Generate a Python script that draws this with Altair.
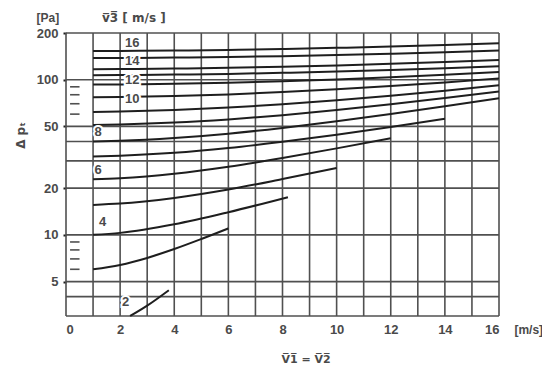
import altair as alt
import pandas as pd

# ---- curve data: pressure loss dp [Pa] vs v1 = v2 [m/s] for each v3 ----
x_to16 = [1, 2, 4, 6, 8, 10, 12, 14, 16]
dp_16 = [153, 153.2, 154.1, 155.6, 157.7, 160.4, 163.6, 167.5, 172]
dp_15 = [138, 138.1, 138.9, 140.2, 141.9, 144.1, 146.9, 150.2, 154]
dp_14 = [117, 117.2, 118, 119.3, 121.2, 123.6, 126.5, 130, 134]
dp_13 = [107, 107.2, 107.9, 109, 110.7, 112.8, 115.4, 118.5, 122]
dp_12 = [93, 93.2, 94.1, 95.6, 97.7, 100.4, 103.6, 107.5, 112]
dp_11 = [77, 77.3, 78.5, 80.4, 83.2, 86.7, 91, 96.1, 102]
dp_10 = [62, 62.4, 63.8, 66.1, 69.4, 73.6, 78.8, 84.9, 92]
dp_9 = [51, 51.4, 52.9, 55.5, 59.1, 63.8, 69.5, 76.2, 84]
dp_8 = [40, 40.4, 42.1, 44.9, 48.9, 54, 60.2, 67.5, 76]
x_to14 = [1, 2, 4, 6, 8, 10, 12, 14]
dp_7 = [32, 32.4, 33.8, 36.3, 39.8, 44.2, 49.6, 56]
x_to12 = [1, 2, 4, 6, 8, 10, 12]
dp_6 = [22.8, 23.2, 24.8, 27.5, 31.3, 36.1, 42]
x_to10 = [1, 2, 4, 6, 8, 10]
dp_5 = [15.6, 15.9, 17.3, 19.6, 22.9, 27]
x_to8 = [1, 2, 4, 6, 8.2]
dp_4 = [10, 10.3, 11.7, 14, 17.5]
x_to6 = [1, 2, 3, 4, 5, 6]
dp_3 = [6, 6.4, 7.1, 8.1, 9.4, 11]
x_v2 = [2.37, 3, 3.8]
dp_2 = [3.0, 3.5, 4.4]

# ---- curve labels ----
label_text = ["16", "14", "12", "10", "8", "6", "4", "2"]
label_x = [2.18, 2.18, 2.18, 2.18, 1.05, 1.05, 1.22, 2.07]
label_y = [173, 132, 100, 75.6, 45.7, 26, 12.1, 3.67]

# ---- grid ----
h_grid = [3, 4, 5, 10, 20, 30, 40, 50, 100, 200]
v_grid = [0, 1, 2, 3, 4, 5, 6, 7, 8, 9, 10, 11, 12, 13, 14, 15, 16]
short_ticks = [6, 7, 8, 9, 60, 70, 80, 90]
x_range = [0, 16]
y_range = [3, 200]
short_range = [0.15, 0.5]
x_ticks = [0, 2, 4, 6, 8, 10, 12, 14, 16]
y_ticks = [5, 10, 20, 50, 100, 200]

# ---- annotation texts ----
annc_text = ["[Pa]", "[m/s]"]
annc_x = [-0.67, 17.1]
annc_y = [250, 2.43]
annl_text = ["v\u03053\u0305 [ m/s ]"]
annl_x = [1.33]
annl_y = [250]
xtitle_text = ["V\u03051\u0305 = V\u03052\u0305"]
xtitle_x = [8.87]
xtitle_y = [1.57]

GRID = "#505050"
INK = "#1e1e1e"
TXT = "#4a4a4a"
FONT = "Liberation Sans"

xs = alt.Scale(domain=[0, 16], nice=False, zero=False)
ys = alt.Scale(type="log", domain=[3, 200], nice=False)

rows = []
for v, xx, yy in [(16, x_to16, dp_16), (15, x_to16, dp_15), (14, x_to16, dp_14),
                  (13, x_to16, dp_13), (12, x_to16, dp_12), (11, x_to16, dp_11),
                  (10, x_to16, dp_10), (9, x_to16, dp_9), (8, x_to16, dp_8),
                  (7, x_to14, dp_7), (6, x_to12, dp_6), (5, x_to10, dp_5),
                  (4, x_to8, dp_4), (3, x_to6, dp_3), (2, x_v2, dp_2)]:
    for a, b in zip(xx, yy):
        rows.append({"v3": v, "v1": a, "dp": b})
curves_df = pd.DataFrame(rows)

hgrid_df = pd.DataFrame({"dp": h_grid, "xa": x_range[0], "xb": x_range[1]})
vgrid_df = pd.DataFrame({"v1": v_grid, "ya": y_range[0], "yb": y_range[1]})
stick_df = pd.DataFrame({"dp": short_ticks, "xa": short_range[0], "xb": short_range[1]})

xaxis = alt.Axis(values=x_ticks, grid=False, domain=False, ticks=False,
                 labelFont=FONT, labelFontSize=13, labelFontWeight="bold",
                 labelColor=TXT, labelPadding=7, title=None)
yaxis = alt.Axis(values=y_ticks, grid=False, domain=False, ticks=True, tickSize=3,
                 tickColor=INK, tickWidth=2, format="d",
                 labelFont=FONT, labelFontSize=13, labelFontWeight="bold",
                 labelColor=TXT, labelPadding=5, title=None)


def X(f):
    return alt.X(f, scale=xs, axis=xaxis)


def Y(f):
    return alt.Y(f, scale=ys, axis=yaxis)


hgrid = alt.Chart(hgrid_df).mark_rule(color=GRID, strokeWidth=1.6).encode(
    y=Y("dp:Q"), x=X("xa:Q"), x2="xb:Q")

vgrid = alt.Chart(vgrid_df).mark_rule(color=GRID, strokeWidth=1.6).encode(
    x=X("v1:Q"), y=Y("ya:Q"), y2="yb:Q")

sticks = alt.Chart(stick_df).mark_rule(color=GRID, strokeWidth=1.6).encode(
    y=Y("dp:Q"), x=X("xa:Q"), x2="xb:Q")

curves = alt.Chart(curves_df).mark_line(
    color=INK, strokeWidth=2, interpolate="monotone").encode(
    x=X("v1:Q"), y=Y("dp:Q"), detail="v3:N")

lab_df = pd.DataFrame({"t": label_text, "x": label_x, "y": label_y})
lab_halo = alt.Chart(lab_df).mark_text(
    align="left", baseline="middle", font=FONT, fontSize=13, fontWeight="bold",
    color="white", stroke="white", strokeWidth=4).encode(
    x=X("x:Q"), y=Y("y:Q"), text="t:N")
lab = alt.Chart(lab_df).mark_text(
    align="left", baseline="middle", font=FONT, fontSize=13, fontWeight="bold",
    color=TXT).encode(x=X("x:Q"), y=Y("y:Q"), text="t:N")

annc_df = pd.DataFrame({"t": annc_text, "x": annc_x, "y": annc_y})
annc = alt.Chart(annc_df).mark_text(
    align="center", baseline="middle", font=FONT, fontSize=12,
    fontWeight="bold", color=TXT).encode(x=X("x:Q"), y=Y("y:Q"), text="t:N")
annl_df = pd.DataFrame({"t": annl_text, "x": annl_x, "y": annl_y})
annl = alt.Chart(annl_df).mark_text(
    align="left", baseline="middle", font="DejaVu Sans", fontSize=12,
    fontWeight="bold", color=TXT).encode(x=X("x:Q"), y=Y("y:Q"), text="t:N")
xt_df = pd.DataFrame({"t": xtitle_text, "x": xtitle_x, "y": xtitle_y})
xtitle = alt.Chart(xt_df).mark_text(
    align="center", baseline="middle", font="DejaVu Sans", fontSize=11,
    fontWeight="bold", color=TXT).encode(x=X("x:Q"), y=Y("y:Q"), text="t:N")

ytitle_df = pd.DataFrame({"t": ["\u0394 p\u209c"], "x": [-1.66], "y": [43.7]})
ytitle = alt.Chart(ytitle_df).mark_text(
    align="center", baseline="middle", font="DejaVu Sans", fontSize=12,
    fontWeight="bold", color=TXT, angle=270).encode(
    x=X("x:Q"), y=Y("y:Q"), text="t:N")

chart = alt.layer(hgrid, vgrid, sticks, curves, lab_halo, lab, annc, annl, xtitle, ytitle).properties(
    width=433, height=283,
    padding={"left": 58, "top": 25, "right": 43, "bottom": 50},
    autosize=alt.AutoSizeParams(type="none"),
).configure_view(stroke=None)

chart.save("out.html", embed_options={"renderer": "svg", "actions": False})
